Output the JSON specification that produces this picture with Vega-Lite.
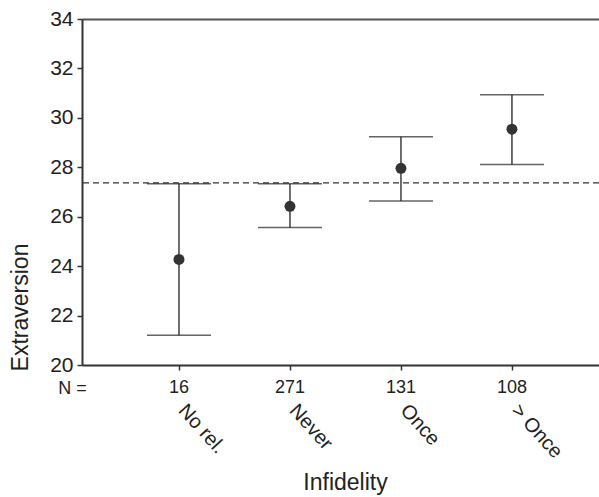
{
  "$schema": "https://vega.github.io/schema/vega-lite/v6.json",
  "width": 517,
  "height": 346,
  "autosize": {"type": "none"},
  "padding": {"left": 82, "top": 19, "right": 0, "bottom": 132},
  "config": {
    "view": {"stroke": null},
    "font": "Liberation Sans",
    "axis": {"labelFont": "Liberation Sans", "titleFont": "Liberation Sans", "labelColor": "#222", "titleColor": "#222", "domainColor": "#333", "tickColor": "#333", "grid": false, "titleFontWeight": "normal"}
  },
  "data": {
    "values": [
      {"Infidelity": "No rel.", "N": 16, "mean": 24.27, "lo": 21.2, "hi": 27.33},
      {"Infidelity": "Never", "N": 271, "mean": 26.42, "lo": 25.56, "hi": 27.33},
      {"Infidelity": "Once", "N": 131, "mean": 27.96, "lo": 26.64, "hi": 29.24},
      {"Infidelity": "> Once", "N": 108, "mean": 29.54, "lo": 28.11, "hi": 30.94}
    ]
  },
  "encoding": {
    "x": {
      "field": "Infidelity",
      "type": "nominal",
      "sort": null,
      "axis": null,
      "scale": {"type": "point", "padding": 0.829, "align": 0.527}
    }
  },
  "layer": [
    {
      "mark": {"type": "rule", "color": "#222", "strokeWidth": 1.3},
      "encoding": {
        "x": {
          "field": "Infidelity", "type": "nominal", "sort": null,
          "axis": {
            "title": "Infidelity", "titleFontSize": 23, "titleX": 263, "titleY": 117, "titleBaseline": "middle", "titleAlign": "center",
            "labelAngle": 48, "labelAlign": "left", "labelBaseline": "top", "labelFontSize": 20, "labelPadding": 30, "labelOffset": 10,
            "tickSize": 5, "domainWidth": 2, "tickWidth": 1.5
          }
        },
        "y": {
          "field": "lo", "type": "quantitative",
          "scale": {"domain": [20, 34], "nice": false, "zero": false},
          "axis": {
            "title": "Extraversion", "titleFontSize": 23, "titleX": -62, "titleY": 288, "titleAlign": "center", "titleBaseline": "middle",
            "values": [20, 22, 24, 26, 28, 30, 32, 34], "labelFontSize": 21, "tickSize": 5, "labelPadding": 4, "domainWidth": 2, "tickWidth": 1.5
          }
        },
        "y2": {"field": "hi"}
      }
    },
    {
      "mark": {"type": "tick", "color": "#222", "size": 64, "thickness": 1.5, "orient": "horizontal"},
      "encoding": {"y": {"field": "hi", "type": "quantitative"}}
    },
    {
      "mark": {"type": "tick", "color": "#222", "size": 64, "thickness": 1.5, "orient": "horizontal"},
      "encoding": {"y": {"field": "lo", "type": "quantitative"}}
    },
    {
      "mark": {"type": "point", "filled": true, "color": "#333", "size": 120, "opacity": 1},
      "encoding": {"y": {"field": "mean", "type": "quantitative"}}
    },
    {
      "data": {"values": [{"ref": 27.37}]},
      "mark": {"type": "rule", "color": "#333", "strokeWidth": 1.3, "strokeDash": [6, 4]},
      "encoding": {"x": null, "y": {"field": "ref", "type": "quantitative"}}
    },
    {
      "mark": {"type": "text", "fontSize": 18, "color": "#222", "baseline": "middle", "dy": 23},
      "encoding": {
        "x": {
          "field": "Infidelity", "type": "nominal", "sort": null,
          "axis": {"orient": "top", "labels": false, "ticks": false, "domain": true, "domainWidth": 2, "domainColor": "#555",
                   "title": "N =", "titleFontSize": 18, "titleX": -10, "titleY": 369, "titleAlign": "center", "titleBaseline": "middle", "titleAngle": 0}
        },
        "y": {"datum": 20, "type": "quantitative"},
        "text": {"field": "N", "type": "quantitative"}
      }
    }
  ],
  "resolve": {"axis": {"x": "independent"}}
}
